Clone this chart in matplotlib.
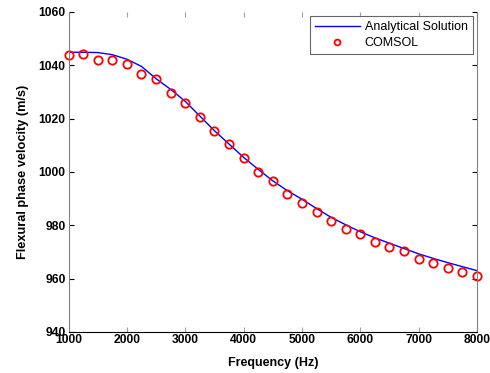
import matplotlib
matplotlib.use("Agg")
import matplotlib.pyplot as plt

plt.rcParams['font.family'] = ['Liberation Sans', 'DejaVu Sans']

freq = [1000, 1250, 1500, 1750, 2000, 2250, 2500, 2750, 3000, 3250, 3500, 3750,
        4000, 4250, 4500, 4750, 5000, 5250, 5500, 5750, 6000, 6250, 6500, 6750,
        7000, 7250, 7500, 7750, 8000]
analytical = [1044.9, 1044.9, 1044.8, 1044.0, 1042.3, 1039.6, 1035.0, 1031.0,
              1026.5, 1021.0, 1015.5, 1010.5, 1005.5, 1001.0, 996.7, 993.0,
              989.8, 986.3, 983.0, 980.2, 977.6, 975.3, 973.3, 971.3, 969.3,
              967.6, 966.0, 964.5, 963.0]
comsol = [1044.0, 1044.1, 1042.1, 1042.1, 1040.5, 1036.8, 1034.9, 1029.7,
          1026.0, 1020.6, 1015.4, 1010.4, 1005.1, 999.9, 996.5, 991.8,
          988.4, 985.0, 981.6, 978.6, 976.9, 973.8, 971.9, 970.4, 967.4,
          965.9, 964.0, 962.5, 960.9]
xticks = [1000, 2000, 3000, 4000, 5000, 6000, 7000, 8000]
yticks = [940, 960, 980, 1000, 1020, 1040, 1060]

fig = plt.figure(figsize=(4.9, 3.73), dpi=100)
ax = fig.add_axes([68.5/490, 41/373, (477-68.5)/490, (332-12)/373])

ax.plot(freq, analytical, color='#0000ff', lw=1.0, label='Analytical Solution')
ax.plot(freq, comsol, linestyle='none', marker='o', markersize=6,
        markerfacecolor='none', markeredgecolor='#ff0000', markeredgewidth=1.3,
        label='COMSOL', clip_on=False)

ax.set_xlim(1000, 8000)
ax.set_ylim(940, 1060)
ax.set_xticks(xticks)
ax.set_yticks(yticks)
ax.set_xticklabels([str(v) for v in xticks], fontweight='bold', fontsize=8.7)
ax.set_yticklabels([str(v) for v in yticks], fontweight='bold', fontsize=8.7)

ax.spines['top'].set_visible(False)
ax.spines['left'].set_color('#808080')
ax.spines['right'].set_color('#808080')
ax.spines['bottom'].set_color('black')
for s in ax.spines.values():
    s.set_linewidth(0.8)

ax.tick_params(axis='x', which='both', direction='in', top=True, bottom=True,
               length=3.5, color='#a0a0a0', pad=1.5)
ax.tick_params(axis='y', which='both', direction='in', left=True, right=True,
               length=3.5, color='black', pad=2)

ax.set_xlabel('Frequency (Hz)', fontweight='bold', fontsize=9, labelpad=8)
ax.set_ylabel('Flexural phase velocity (m/s)', fontweight='bold', fontsize=9.2, labelpad=7)

leg = ax.legend(loc='upper right', fontsize=9, frameon=True, fancybox=False,
                borderaxespad=0.35, handlelength=3.6, handletextpad=0.4,
                borderpad=0.4, labelspacing=0.3, markerscale=0.7)
leg.get_frame().set_edgecolor('#404040')
leg.get_frame().set_linewidth(0.8)

fig.savefig('out.png', dpi=100)
